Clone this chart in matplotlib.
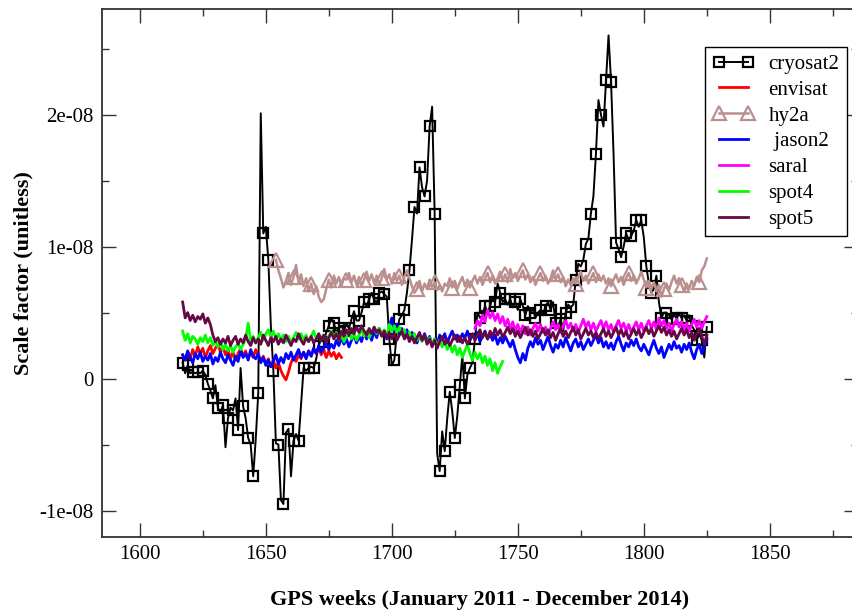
import numpy as np
import matplotlib
matplotlib.use('Agg')
import matplotlib.pyplot as plt
from matplotlib.ticker import MultipleLocator, FuncFormatter

plt.rcParams['font.family'] = ['Liberation Serif', 'DejaVu Serif']

# values are in units of 1e-9 (scale factor, unitless)
UNIT = 1e-9

cryosat2_weeks = np.arange(1617, 1826)
cryosat2 = [
    1.2, 0.4, 1.0, 0.4, 0.5, 0.4, 0.5, 0.4, 0.6, 0.3,
    -0.4, -0.9, -1.5, -0.5, -2.2, -2.6, -2.0, -5.2, -3.0, -2.2,
    -2.4, -1.5, -3.9, 0.8, -2.1, -3.0, -4.5, -5.0, -7.4, -4.6,
    -1.1, 20.1, 11.0, 11.5, 9.0, 4.0, 0.6, -4.9, -5.0, -9.2,
    -9.5, -4.1, -3.8, -7.4, -4.7, -4.2, -4.7, -2.0, 0.8, 0.6,
    0.8, 0.9, 0.8, 1.5, 2.5, 3.0, 2.8, 3.5, 4.0, 4.6,
    4.2, 3.5, 3.8, 4.0, 3.6, 4.2, 3.8, 4.5, 5.1, 4.4,
    4.4, 5.0, 5.8, 5.5, 6.0, 6.5, 6.0, 5.7, 6.5, 6.6,
    6.4, 6.2, 3.0, 1.0, 1.4, 3.5, 4.5, 4.8, 5.2, 6.5,
    8.2, 10.5, 13.0, 12.5, 16.0, 14.5, 13.8, 15.0, 19.1, 20.6,
    12.5, -5.7, -7.0, -4.0, -5.5, -3.0, -1.0, -2.5, -4.5, -2.8,
    -0.5, 1.8, -1.5, 0.3, 0.8, 1.2, 3.0, 5.0, 4.6, 4.8,
    5.5, 5.0, 5.5, 6.2, 5.8, 7.2, 6.5, 5.8, 6.0, 5.6,
    6.0, 5.4, 5.8, 5.2, 6.0, 5.5, 4.8, 5.5, 5.0, 5.3,
    4.6, 5.0, 5.2, 4.8, 5.5, 5.8, 5.2, 5.8, 4.2, 4.0,
    4.5, 3.6, 5.0, 5.6, 5.4, 5.6, 7.5, 8.7, 8.5, 9.0,
    10.2, 10.6, 12.5, 13.8, 17.0, 21.1, 20.0, 19.1, 22.6, 26.0,
    22.5, 17.0, 10.3, 9.8, 9.2, 10.0, 11.0, 10.5, 10.8, 11.2,
    12.0, 11.5, 12.0, 10.7, 8.5, 7.2, 6.5, 6.8, 7.8, 5.8,
    4.6, 5.0, 5.0, 4.8, 4.5, 4.8, 4.6, 4.9, 4.6, 4.8,
    4.4, 4.8, 4.0, 3.7, 2.9, 3.4, 2.9, 1.6, 3.9,
]

envisat_weeks = np.arange(1617, 1681)
envisat = [
    1.8, 1.4, 2.0, 1.5, 2.2, 1.7, 2.4, 1.9, 2.3, 1.6,
    2.1, 2.5, 1.9, 2.3, 2.6, 2.0, 2.4, 1.8, 2.2, 1.5,
    2.0, 1.4, 1.9, 2.3, 1.7, 2.1, 1.5, 2.0, 1.6, 2.2,
    1.8, 1.3, 1.7, 1.1, 1.5, 0.9, 1.4, 0.8, 1.2, 0.6,
    0.2, -0.1, 0.5, 1.2, 1.6, 1.3, 1.8, 1.5, 2.0, 1.6,
    2.1, 1.7, 2.3, 1.9, 2.4, 1.8, 2.2, 1.6, 2.1, 1.7,
    2.0, 1.5, 1.9, 1.6,
]

hy2a_weeks = np.arange(1654, 1826)
hy2a = [
    9.0, 8.2, 7.6, 6.9, 7.4, 8.0, 7.1, 7.7, 8.6, 7.3,
    7.9, 7.0, 7.6, 6.6, 7.2, 6.4, 7.0, 6.2, 5.8, 6.0,
    6.8, 7.5, 6.9, 7.8, 7.2, 7.7, 7.0, 7.6, 7.5, 8.0,
    7.3, 7.8, 7.1, 7.7, 7.0, 7.5, 8.1, 7.4, 7.9, 7.2,
    7.8, 7.1, 7.6, 8.3, 7.5, 7.9, 7.2, 8.0, 7.4, 7.8,
    7.1, 7.7, 8.2, 7.6, 7.0, 6.5, 6.8, 7.4, 6.6, 7.2,
    6.8, 7.5, 6.9, 7.3, 6.7, 7.1, 6.6, 7.2, 7.0, 7.6,
    6.9, 7.4, 6.8, 7.3, 7.7, 7.0, 7.5, 6.9, 7.4, 7.8,
    7.2, 7.7, 7.1, 7.6, 8.0, 7.3, 7.8, 7.2, 7.6, 8.1,
    7.4, 7.9, 7.3, 8.3, 7.6, 8.0, 7.4, 7.8, 8.2, 7.5,
    7.9, 7.3, 7.7, 7.1, 7.6, 8.0, 7.4, 7.8, 7.2, 7.6,
    8.2, 7.5, 7.9, 7.3, 7.7, 7.0, 7.5, 7.1, 7.6, 7.2,
    7.7, 8.1, 7.4, 7.8, 7.2, 7.6, 8.0, 7.3, 7.9, 7.4,
    7.8, 7.2, 7.6, 7.0, 7.5, 7.9, 7.3, 7.7, 7.1, 7.6,
    8.0, 7.4, 7.8, 7.2, 7.6, 8.1, 7.5, 6.9, 7.4, 6.8,
    7.3, 6.6, 7.1, 6.2, 6.8, 7.2, 6.7, 7.3, 7.8, 7.2,
    7.6, 7.1, 6.6, 7.2, 6.8, 7.4, 7.0, 7.7, 7.3, 8.2,
    8.5, 9.1,
]

jason2_weeks = np.arange(1617, 1826)
jason2 = [
    1.8, 1.4, 2.1, 1.6, 1.2, 1.9, 1.5, 2.0, 1.3, 1.7,
    1.4, 1.9, 1.1, 1.6, 1.3, 2.0, 1.5, 1.2, 1.8, 1.4,
    1.0, 1.7, 1.3, 2.1, 1.6, 1.9, 1.4, 2.2, 1.7, 1.5,
    1.9, 1.2, 1.6, 1.0, 1.4, 0.9, 1.3, 1.8, 1.1, 1.6,
    1.2, 1.9, 1.5, 2.0, 1.4, 1.8, 2.2, 1.6, 2.0, 1.5,
    2.1, 1.7, 2.3, 1.9, 2.5, 2.0, 2.4, 2.8, 2.2, 2.6,
    2.3, 2.9, 2.5, 3.1, 2.6, 3.0, 2.4, 2.9, 3.3, 2.7,
    3.2, 2.8, 3.5, 3.0, 3.4, 2.9, 3.6, 3.1, 3.8, 3.3,
    3.6, 3.0, 3.9, 4.6, 3.5, 4.1, 3.4, 3.8, 3.2, 3.7,
    3.0, 3.5, 3.1, 2.7, 3.3, 2.9, 3.4, 2.8, 3.2, 2.5,
    3.0, 2.6, 3.3, 2.9, 3.4, 2.7, 3.2, 3.6, 3.0, 3.3,
    2.8, 3.4, 3.1, 3.6, 2.9, 3.3, 3.0, 3.5, 2.8, 3.2,
    3.6, 3.0, 3.4, 2.9, 3.3, 2.6, 3.1, 2.7, 3.2, 2.8,
    2.4, 2.9, 2.2, 1.6, 1.2, 1.9, 1.4, 2.3, 2.8, 2.4,
    3.1, 2.6, 2.9, 2.2, 2.7, 3.2, 2.5, 2.0, 2.6, 2.3,
    2.9, 2.4, 3.1, 2.6, 2.1, 2.7, 3.0, 2.4, 2.8, 2.2,
    2.6, 3.0, 2.5, 2.9, 3.3, 2.7, 3.1, 2.4, 2.8, 2.3,
    2.7, 2.2, 2.8, 3.2, 2.6, 2.1, 2.7, 2.4, 2.9, 2.5,
    3.0, 2.4, 2.1, 2.6, 2.2, 1.8, 2.4, 2.9, 2.3, 1.9,
    2.4, 1.6, 2.1, 2.6, 2.2, 2.8, 2.3, 2.5, 2.0, 2.6,
    2.2, 2.7, 2.0, 1.5, 2.2, 2.6, 1.9, 2.4, 3.0,
]

saral_weeks = np.arange(1733, 1826)
saral = [
    3.8, 4.4, 4.0, 4.8, 4.3, 5.2, 4.6, 5.0, 4.4, 4.9,
    4.2, 4.7, 4.0, 4.5, 3.8, 4.3, 3.6, 4.1, 3.5, 4.0,
    3.4, 3.9, 3.3, 3.8, 4.2, 3.6, 4.1, 3.5, 3.9, 3.3,
    3.8, 4.3, 3.7, 4.1, 3.5, 4.0, 4.4, 3.8, 4.2, 3.6,
    4.1, 3.5, 4.0, 4.5, 3.9, 4.3, 3.7, 4.2, 3.6, 4.0,
    4.4, 3.8, 4.3, 3.7, 4.1, 3.5, 4.0, 4.4, 3.8, 4.2,
    3.6, 4.1, 3.5, 3.9, 4.3, 3.7, 4.2, 3.6, 4.0, 4.4,
    3.8, 4.3, 3.7, 4.6, 4.0, 4.4, 3.8, 4.2, 3.6, 4.1,
    4.5, 3.9, 4.3, 3.7, 4.2, 3.6, 4.1, 4.5, 3.9, 4.4,
    3.8, 4.3, 4.7,
]

spot4_weeks = np.arange(1617, 1745)
spot4 = [
    3.6, 2.9, 3.4, 2.7, 3.2, 3.0, 2.6, 3.1, 2.8, 3.3,
    2.7, 3.1, 2.5, 2.9, 2.4, 2.8, 2.2, 2.6, 2.1, 2.5,
    2.0, 2.4, 2.7, 2.2, 2.6, 3.0, 4.2, 2.8, 3.2, 2.7,
    3.1, 3.5, 2.9, 3.4, 3.7, 3.2, 3.6, 3.0, 3.4, 2.9,
    3.3, 2.8, 3.2, 2.7, 3.1, 3.5, 3.0, 3.4, 2.9, 3.3,
    2.8, 3.2, 3.6, 3.0, 3.4, 2.9, 3.3, 2.8, 3.2, 3.6,
    3.1, 3.5, 2.9, 3.3, 2.8, 3.2, 3.6, 3.0, 3.4, 2.9,
    3.3, 3.7, 3.2, 3.6, 3.1, 3.5, 3.9, 3.4, 3.8, 3.3,
    3.7, 3.2, 4.1, 3.6, 4.0, 3.5, 3.9, 3.3, 3.7, 3.1,
    3.5, 3.0, 3.4, 2.9, 3.3, 2.8, 3.2, 2.7, 3.1, 2.6,
    3.0, 2.5, 2.9, 2.4, 2.8, 2.2, 2.6, 2.0, 2.5, 1.8,
    2.3, 1.6, 2.1, 2.6, 1.9, 1.4, 2.0, 1.5, 1.9, 1.2,
    1.7, 1.0, 1.5, 0.6, 1.2, 0.4, 0.9, 1.3,
]

spot5_weeks = np.arange(1617, 1826)
spot5 = [
    5.8, 4.6, 5.0, 4.4, 4.8, 4.3, 4.7, 4.5, 4.9, 4.2,
    4.6, 4.1, 3.3, 2.8, 3.1, 2.6, 3.0, 2.7, 3.2, 2.5,
    2.9, 3.2, 2.6, 3.0, 2.7, 3.3, 2.8, 2.5, 3.1, 2.7,
    3.0, 2.6, 3.3, 2.9, 2.5, 3.1, 2.8, 3.2, 2.6, 3.0,
    2.7, 3.3, 2.9, 2.5, 3.0, 2.8, 3.4, 2.9, 2.6, 3.1,
    2.8, 3.2, 2.7, 3.0, 3.4, 2.9, 3.3, 2.8, 3.1, 3.5,
    3.0, 3.4, 2.9, 3.6, 3.2, 3.7, 3.3, 3.8, 3.4, 3.9,
    3.5, 4.0, 3.6, 3.3, 3.8, 3.4, 3.9, 3.5, 3.7, 3.2,
    3.6, 3.1, 3.5, 3.0, 3.4, 2.9, 3.3, 3.6, 3.0, 3.4,
    2.8, 3.2, 2.7, 3.1, 3.5, 2.9, 3.3, 2.6, 3.0, 2.4,
    2.9, 2.3, 2.8, 3.2, 2.6, 3.0, 2.5, 2.9, 3.3, 2.8,
    3.2, 2.7, 3.1, 2.6, 3.0, 3.4, 2.9, 3.3, 3.7, 3.1,
    3.5, 3.0, 3.6, 3.2, 3.8, 3.3, 3.7, 3.1, 3.5, 3.9,
    3.4, 3.8, 3.2, 3.6, 3.1, 3.5, 3.9, 3.3, 3.7, 3.2,
    3.6, 3.0, 3.4, 3.8, 3.3, 3.7, 3.1, 3.5, 2.9, 3.4,
    3.8, 3.2, 3.6, 3.1, 3.5, 3.9, 3.3, 3.7, 3.0, 3.4,
    3.8, 3.3, 3.6, 3.1, 3.5, 3.0, 3.4, 3.8, 3.2, 3.6,
    3.1, 3.5, 3.9, 3.3, 3.7, 3.2, 3.6, 3.0, 3.4, 3.8,
    3.3, 3.7, 3.1, 3.5, 3.9, 3.4, 3.8, 3.2, 3.6, 4.0,
    3.5, 3.9, 3.3, 3.7, 3.2, 3.6, 3.0, 3.4, 3.8, 3.3,
    3.7, 3.1, 3.5, 2.9, 3.4, 3.8, 3.2, 2.6, 3.3,
]


def sci(v, pos):
    if abs(v) < 1e-20:
        return '0'
    return '%.0e' % v


fig = plt.figure(figsize=(8.52, 6.12), dpi=100)
# axes box in pixels: left 102, right 858 (beyond the cropped edge), top 9, bottom 537
ax = fig.add_axes([102 / 852, 1 - 537 / 612, 756 / 852, 528 / 612])

ax.plot(cryosat2_weeks, np.array(cryosat2) * UNIT, color='black', lw=1.4,
        marker='s', markersize=7, markerfacecolor='none', markeredgewidth=1.6,
        markevery=2, label='cryosat2')
ax.plot(envisat_weeks, np.array(envisat) * UNIT, color='red', lw=2, label='envisat')
ax.plot(hy2a_weeks, np.array(hy2a) * UNIT, color='#bc8f8f', lw=1.8,
        marker='^', markersize=10, markerfacecolor='none', markeredgewidth=1.6,
        markevery=7, label='hy2a')
ax.plot(jason2_weeks, np.array(jason2) * UNIT, color='blue', lw=2, label=' jason2')
ax.plot(saral_weeks, np.array(saral) * UNIT, color='magenta', lw=2, label='saral')
ax.plot(spot4_weeks, np.array(spot4) * UNIT, color='#00ff00', lw=2, label='spot4')
ax.plot(spot5_weeks, np.array(spot5) * UNIT, color='#670748', lw=2, label='spot5')

ax.set_xlim(1585, 1885)
ax.set_ylim(-1.2e-8, 2.8e-8)
ax.xaxis.set_major_locator(MultipleLocator(50))
ax.xaxis.set_minor_locator(MultipleLocator(25))
ax.yaxis.set_major_locator(MultipleLocator(1e-8))
ax.yaxis.set_minor_locator(MultipleLocator(0.5e-8))
ax.yaxis.set_major_formatter(FuncFormatter(sci))
ax.tick_params(which='both', direction='in', top=True, right=True, width=1.0,
               labelsize=15, color='#333333')
ax.tick_params(which='major', length=10, pad=6)
ax.tick_params(which='minor', length=5)
for s in ax.spines.values():
    s.set_linewidth(1.3)
    s.set_color('#333333')

ax.set_xlabel('GPS weeks (January 2011 - December 2014)', fontsize=16, fontweight='bold')
ax.set_ylabel('Scale factor (unitless)', fontsize=16, fontweight='bold')
ax.xaxis.set_label_coords(0.5, -0.10)
ax.yaxis.set_label_coords(-0.09, 0.5)

leg = ax.legend(loc='upper left', bbox_to_anchor=(705 / 852, 1 - 47 / 612),
                bbox_transform=fig.transFigure, borderaxespad=0, numpoints=2,
                fontsize=15, handlelength=2.0, handletextpad=0.7,
                labelspacing=0.3, borderpad=0.35, fancybox=False, framealpha=1)
leg.get_frame().set_edgecolor('black')
leg.get_frame().set_linewidth(1.0)

fig.savefig('out.png', dpi=100)
